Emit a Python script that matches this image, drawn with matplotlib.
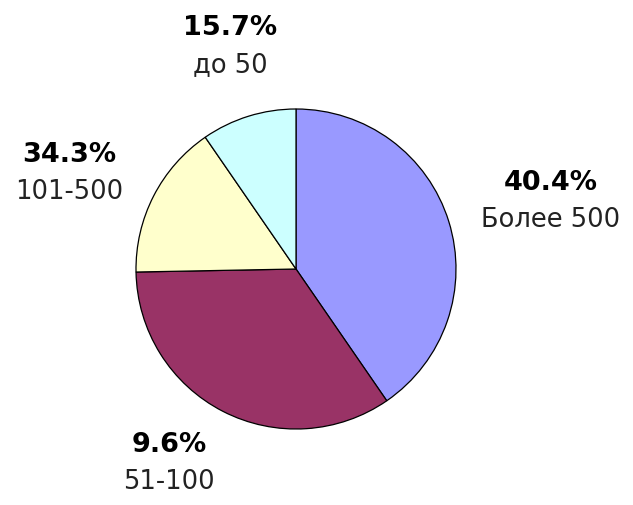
import matplotlib
matplotlib.use("Agg")
import matplotlib.pyplot as plt

# slices, clockwise from 12 o'clock
shares = [40.4, 34.3, 15.7, 9.6]
colors = ['#9999FF', '#993366', '#FFFFCC', '#CCFFFF']

# labels as they stand in the original picture
pct_labels = ['15.7%', '34.3%', '40.4%', '9.6%']
cat_labels = ['до 50', '101-500', 'Более 500', '51-100']
# label anchor (center x, baseline of percent line) in pixels from top-left
label_pos = [(230, 35), (69, 162), (551, 190), (169, 452)]

W, H = 633, 506
fig = plt.figure(figsize=(W / 100, H / 100), dpi=100)
fig.patch.set_facecolor('white')

ax = fig.add_axes([136 / W, (H - 430) / H, 320 / W, 320 / H])
ax.pie(shares, colors=colors, startangle=90, counterclock=False,
       wedgeprops=dict(edgecolor='black', linewidth=0.9))
ax.set_xlim(-1.0, 1.0)
ax.set_ylim(-1.0, 1.0)
ax.set_aspect('equal')
ax.axis('off')

for (x, y), p, c in zip(label_pos, pct_labels, cat_labels):
    fig.text(x / W, 1 - y / H, p, ha='center', va='baseline',
             fontsize=19.5, fontweight='bold', color='black')
    fig.text(x / W, 1 - (y + 37) / H, c, ha='center', va='baseline',
             fontsize=18.5, color='#222222')

fig.savefig('out.png', dpi=100, facecolor='white')
